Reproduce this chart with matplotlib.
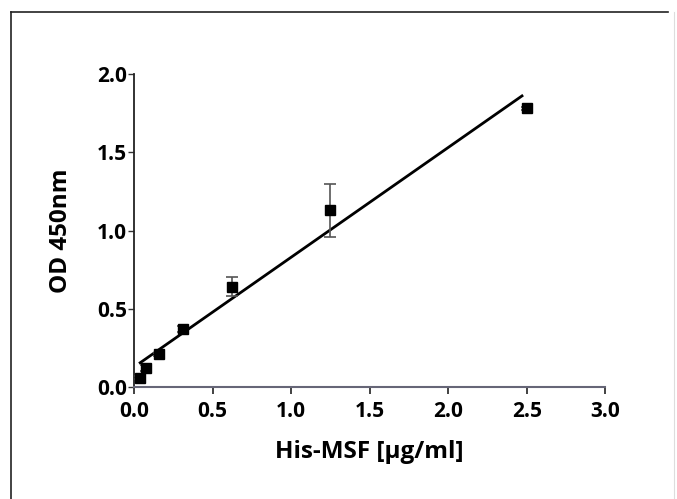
import numpy as np
import matplotlib.pyplot as plt
from matplotlib.lines import Line2D

# standard curve data
conc = [0.039, 0.078, 0.156, 0.3125, 0.625, 1.25, 2.5]
od = [0.06, 0.12, 0.21, 0.37, 0.64, 1.13, 1.78]
sd = [0.01, 0.02, 0.01, 0.02, 0.06, 0.17, 0.01]

# linear fit drawn across the data range
fit_x = [0.039, 2.47]
fit_y = [0.155, 1.86]

x_ticks = [0.0, 0.5, 1.0, 1.5, 2.0, 2.5, 3.0]
y_ticks = [0.0, 0.5, 1.0, 1.5, 2.0]

plt.rcParams['font.family'] = ['Open Sans', 'DejaVu Sans']
plt.rcParams['font.weight'] = 'bold'

fig = plt.figure(figsize=(6.77, 4.99), dpi=100)
ax = fig.add_axes([0.198, 0.2244, 0.696, 0.6273])

ax.plot(fit_x, fit_y, color='black', lw=2.0, zorder=2)
ax.errorbar(conc, od, yerr=sd, fmt='s', color='black', ms=6.5,
            ecolor='#555555', elinewidth=1.2, capsize=4, capthick=1.2,
            clip_on=False, zorder=3)

ax.set_xlim(0, 3.0)
ax.set_ylim(0, 2.0)
ax.set_xticks(x_ticks)
ax.set_yticks(y_ticks)
ax.set_xticklabels(['%.1f' % v for v in x_ticks], fontsize=15, fontweight='bold')
ax.set_yticklabels(['%.1f' % v for v in y_ticks], fontsize=15, fontweight='bold')

ax.spines['top'].set_visible(False)
ax.spines['right'].set_visible(False)
ax.spines['left'].set_linewidth(1.3)
ax.spines['left'].set_color('#222222')
ax.spines['bottom'].set_linewidth(1.5)
ax.spines['bottom'].set_color('#666677')
ax.tick_params(axis='x', direction='out', length=5, width=1.3, color='#333333', pad=5)
ax.tick_params(axis='y', direction='out', length=4, width=1.0, color='#333333', pad=1)

ax.set_xlabel('His-MSF [µg/ml]', fontsize=17.5, fontweight='bold', labelpad=13)
ax.set_ylabel('OD 450nm', fontsize=17.5, fontweight='bold', labelpad=17)

# scanned frame around the figure
fig.add_artist(Line2D([11 / 677, 11 / 677], [0, 1 - 12 / 499], color='#222222', lw=1.2))
fig.add_artist(Line2D([11 / 677, 668 / 677], [1 - 12 / 499, 1 - 12 / 499], color='#222222', lw=1.2))
fig.add_artist(Line2D([674 / 677, 674 / 677], [0, 1 - 12 / 499], color='#dddddd', lw=0.8))

fig.savefig('out.png', dpi=100)
